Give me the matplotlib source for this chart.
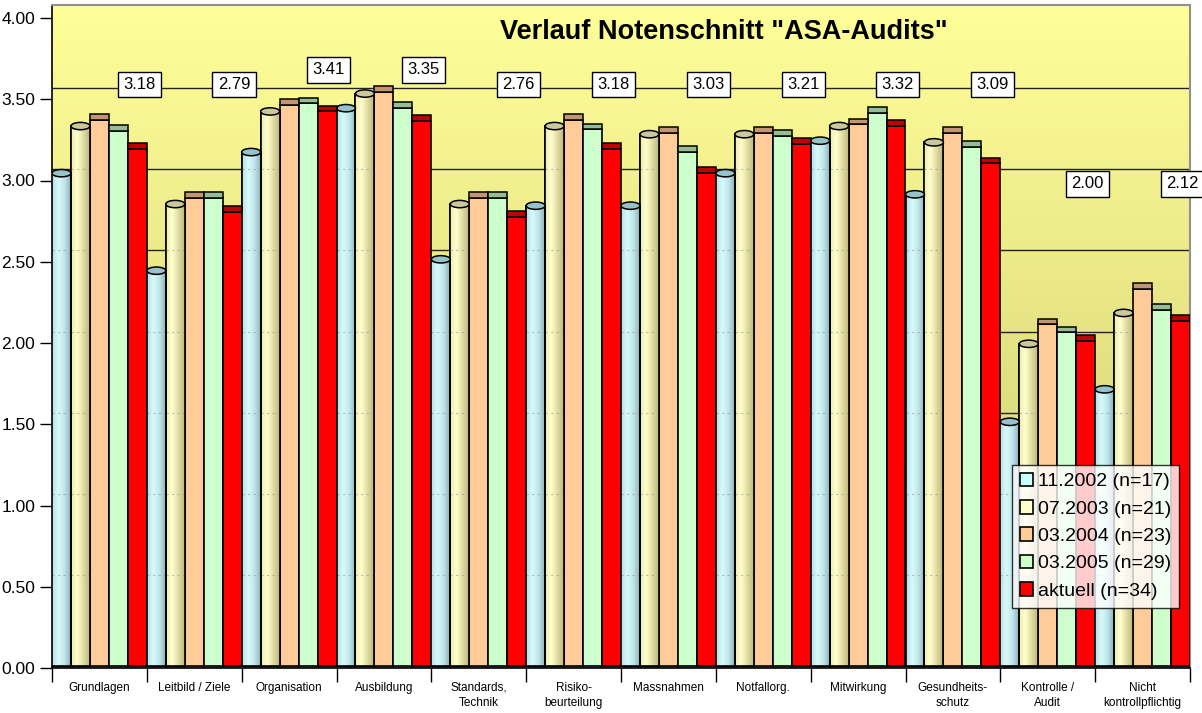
import numpy as np
import matplotlib.pyplot as plt
from matplotlib.patches import Ellipse
from matplotlib.colors import LinearSegmentedColormap

plt.rcParams['font.family'] = ['Liberation Sans', 'DejaVu Sans']

# --- data ---
categories = ['Grundlagen', 'Leitbild / Ziele', 'Organisation', 'Ausbildung',
              'Standards,\nTechnik', 'Risiko-\nbeurteilung', 'Massnahmen',
              'Notfallorg.', 'Mitwirkung', 'Gesundheits-\nschutz',
              'Kontrolle /\nAudit', 'Nicht\nkontrollpflichtig']
series_names = ['11.2002 (n=17)', '07.2003 (n=21)', '03.2004 (n=23)',
                '03.2005 (n=29)', 'aktuell (n=34)']
s2002 = [3.03, 2.43, 3.16, 3.43, 2.50, 2.83, 2.83, 3.03, 3.23, 2.90, 1.50, 1.70]
s2003 = [3.32, 2.84, 3.41, 3.52, 2.84, 3.32, 3.27, 3.27, 3.32, 3.22, 1.98, 2.17]
s2004 = [3.36, 2.88, 3.45, 3.53, 2.88, 3.36, 3.28, 3.28, 3.33, 3.28, 2.10, 2.32]
s2005 = [3.29, 2.88, 3.46, 3.43, 2.88, 3.30, 3.16, 3.26, 3.40, 3.19, 2.05, 2.19]
aktuell = [3.18, 2.79, 3.41, 3.35, 2.76, 3.18, 3.03, 3.21, 3.32, 3.09, 2.00, 2.12]

all_series = [s2002, s2003, s2004, s2005, aktuell]
colors = ['#CCFFFF', '#FFFFCC', '#FFCC99', '#CCFFCC', '#FF0000']
cap_colors = ['#96C3C8', '#CDC89B', '#C39673', '#96BE96', '#C00000']
cylinder = [True, True, False, False, False]

fig = plt.figure(figsize=(12.02, 7.13), dpi=100)
ax = fig.add_axes([52 / 1202, 45 / 713, 1138 / 1202, 663 / 713])
ax.set_xlim(0, 12)
ax.set_ylim(0, 4.08)

# background gradient (back wall)
bg = LinearSegmentedColormap.from_list('bg', [(205/255, 200/255, 112/255), (1, 1, 153/255)])
ax.imshow(np.linspace(0, 1, 256).reshape(-1, 1), cmap=bg, origin='lower',
          extent=(0, 12, 0, 4.08), aspect='auto', zorder=0)

# back wall gridlines (shifted up by the 3D depth)
for g in np.arange(0.57, 3.6, 0.5):
    ax.axhline(g, color='#222222', lw=1, zorder=1)

# floor
ax.axhspan(0, 0.035, color='#7F7F7F', zorder=1.5)

n = len(all_series)
w = 1.0 / n
x = np.arange(len(categories))
cyl_grad = {
    0: [(0.72, 0.88, 0.90), (0.85, 0.98, 0.98), (0.75, 0.90, 0.92), (0.55, 0.70, 0.72)],
    1: [(0.94, 0.92, 0.70), (1.0, 1.0, 0.80), (0.88, 0.86, 0.63), (0.74, 0.72, 0.50)],
}
cap_h = 0.035

for k, (vals, name) in enumerate(zip(all_series, series_names)):
    bars = ax.bar(x + (k + 0.5) * w, vals, width=w, bottom=0.015, color=colors[k],
                  edgecolor='black', linewidth=1.2, label=name, zorder=3)
    for b in bars:
        bx, bw, top = b.get_x(), b.get_width(), b.get_y() + b.get_height()
        if cylinder[k]:
            cm = LinearSegmentedColormap.from_list('c%d' % k, cyl_grad[k])
            ax.imshow(np.linspace(0, 1, 64).reshape(1, -1), cmap=cm,
                      extent=(bx, bx + bw, b.get_y(), top), aspect='auto', zorder=3.1)
            ax.bar(bx + bw / 2, top - b.get_y(), width=bw, bottom=b.get_y(),
                   fill=False, edgecolor='black', linewidth=1.2, zorder=3.2)
            ax.add_patch(Ellipse((bx + bw / 2, top), bw, 0.045, facecolor=cap_colors[k],
                                 edgecolor='black', linewidth=1.1, zorder=3.3))
        else:
            ax.bar(bx + bw / 2, cap_h, width=bw, bottom=top, color=cap_colors[k],
                   edgecolor='black', linewidth=1.1, zorder=3.3)

# see-through gridlines on the cylinder bars
for g in np.arange(0.57, 3.6, 0.5):
    for k in (0, 1):
        for i, v in enumerate(all_series[k]):
            if v > g:
                ax.plot([i + k * w, i + (k + 1) * w], [g, g], color='#8A9A9A', lw=0.8,
                        ls=(0, (2, 3)), alpha=0.6, zorder=3.15)

# value labels of the current series
for i, v in enumerate(aktuell):
    if v >= 3.35:
        ly = 3.68
    elif v < 2.5:
        ly = 2.98
    else:
        ly = 3.59
    ax.text(i + 0.92, ly, '%.2f' % v, ha='center', va='center', fontsize=12, zorder=6,
            bbox=dict(boxstyle='square,pad=0.32', facecolor='white', edgecolor='black', lw=1))

# axes styling
ax.set_yticks(np.arange(0, 4.01, 0.5))
ax.set_yticklabels(['%.2f' % t for t in np.arange(0, 4.01, 0.5)], fontsize=12.5)
ax.tick_params(axis='y', direction='out', length=9, width=1, pad=3)
ax.set_xticks(np.arange(13))
ax.set_xticklabels([])
ax.tick_params(axis='x', which='major', direction='out', length=10, width=1)
ax.set_xticks(x + 0.5, minor=True)
ax.set_xticklabels(categories, minor=True, fontsize=8.5, linespacing=1.4)
ax.tick_params(axis='x', which='minor', length=0, pad=10)

for s in ['top', 'right']:
    ax.spines[s].set_color('#909090')
    ax.spines[s].set_linewidth(1.5)
for s in ['left', 'bottom']:
    ax.spines[s].set_color('black')
    ax.spines[s].set_linewidth(1.2)

fig.text(724 / 1202, 1 - 32 / 713, 'Verlauf Notenschnitt "ASA-Audits"', ha='center', va='center',
         fontsize=19.5, fontweight='bold')

leg = ax.legend(loc='upper left', bbox_to_anchor=(1012 / 1202, 1 - 465 / 713),
                bbox_transform=fig.transFigure, fontsize=14, frameon=True, fancybox=False,
                handlelength=0.7, handleheight=0.7, handletextpad=0.25, labelspacing=0.5,
                borderpad=0.4, borderaxespad=0)
leg.get_frame().set_edgecolor('black')
leg.get_frame().set_linewidth(1)
leg.set_zorder(10)

fig.savefig('out.png', dpi=100)
